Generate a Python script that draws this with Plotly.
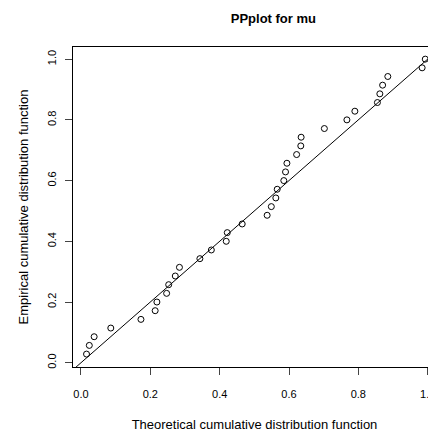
import plotly.graph_objects as go

theo = [.016,.024,.038,.086,.173,.214,.219,.247,.253,.272,.284,.343,.376,.419,.422,.465,
        .537,.549,.562,.566,.585,.590,.594,.622,.634,.635,.702,.767,.790,.855,.862,.870,.885,.984,.993]
emp = [(i + 1) / 35 for i in range(35)]
ticks = [0, 0.2, 0.4, 0.6, 0.8, 1.0]
tick_text = ["0.0", "0.2", "0.4", "0.6", "0.8", "1.0"]

fig = go.Figure()
fig.add_trace(go.Scatter(x=[-0.03, 1.05], y=[-0.03, 1.05], mode="lines",
                         line=dict(color="black", width=1), hoverinfo="skip"))
fig.add_trace(go.Scatter(x=theo, y=emp, mode="markers",
                         marker=dict(symbol="circle-open", size=6, color="black", line=dict(width=1))))
font = dict(family="Liberation Sans Narrow, Liberation Sans, Arial", size=11, color="black")
fig.update_layout(
    width=428, height=424, showlegend=False, plot_bgcolor="white", paper_bgcolor="white",
    margin=dict(l=65, r=0, t=39, b=65), font=font,
    title=dict(text="<b>PPplot for mu</b>", x=0.62, xanchor="center", y=0.985, font=dict(size=13)),
    xaxis=dict(range=[-0.023, 1.024], tickvals=ticks, ticktext=tick_text, ticks="outside", ticklen=7,
               showgrid=False, zeroline=False, showline=True, linecolor="black", mirror=True,
               automargin=False, ticklabelstandoff=10,
               title=dict(text="Theoretical cumulative distribution function", standoff=20)),
    yaxis=dict(range=[-0.014, 1.04], tickvals=ticks, ticktext=tick_text, ticks="outside", ticklen=7,
               tickangle=-90, showgrid=False, zeroline=False, showline=True, linecolor="black", mirror=True,
               automargin=False, ticklabelstandoff=5,
               title=dict(text="Empirical cumulative distribution function", standoff=14)),
)
fig.write_html("out.html")
